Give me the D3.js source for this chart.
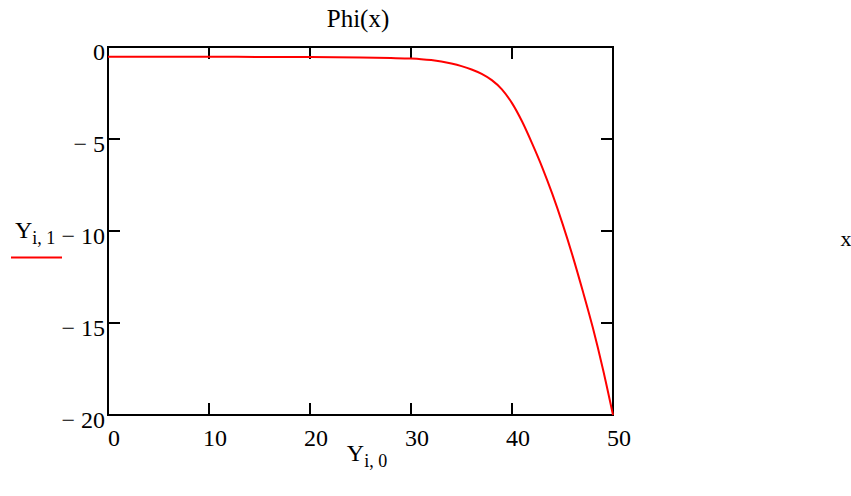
<!DOCTYPE html>
<html>
<head>
<meta charset="utf-8">
<script src="https://cdn.jsdelivr.net/npm/d3@7/dist/d3.min.js"></script>
<style>
  html, body { margin: 0; padding: 0; background: #fff; }
  svg text { font-family: "Liberation Serif", "Times New Roman", serif; fill: #000; }
</style>
</head>
<body>
<div id="chart"></div>
<script>
const xVals = [0, 5, 10, 15, 20, 25, 28, 30, 31, 32, 33, 34, 35, 36, 37, 38, 39, 40,
  41, 42, 43, 44, 45, 46, 47, 48, 49, 50];
const phiVals = [-0.53, -0.53, -0.53, -0.54, -0.55, -0.57, -0.6, -0.63, -0.66, -0.71, -0.79,
  -0.9, -1.04, -1.22, -1.46, -1.8, -2.3, -3.05, -4.05, -5.25, -6.55, -8.0, -9.6, -11.35,
  -13.25, -15.25, -17.5, -20];
const xTicks = [0, 10, 20, 30, 40, 50];
const yTicks = [0, -5, -10, -15, -20];

const width = 851, height = 496;
const svg = d3.select('#chart').append('svg')
  .attr('width', width)
  .attr('height', height);

const x = d3.scaleLinear().domain([0, 50]).range([108, 613]);
const y = d3.scaleLinear().domain([-20, 0]).range([415, 47]);

const fmt = d => d < 0 ? '\u2212 ' + Math.abs(d) : String(d);

// inward ticks on all four sides
const tick = 12;
const axes = svg.append('g').attr('stroke', '#000').attr('stroke-width', 2);
axes.selectAll('g.tb')
  .data(xTicks)
  .join(enter => {
    const g = enter.append('g').attr('class', 'tb');
    g.append('line').attr('x1', d => x(d)).attr('x2', d => x(d)).attr('y1', y(0)).attr('y2', y(0) + tick);
    g.append('line').attr('x1', d => x(d)).attr('x2', d => x(d)).attr('y1', y(-20)).attr('y2', y(-20) - tick);
    return g;
  });
axes.selectAll('g.lr')
  .data(yTicks)
  .join(enter => {
    const g = enter.append('g').attr('class', 'lr');
    g.append('line').attr('x1', x(0)).attr('x2', x(0) + tick).attr('y1', d => y(d)).attr('y2', d => y(d));
    g.append('line').attr('x1', x(50)).attr('x2', x(50) - tick).attr('y1', d => y(d)).attr('y2', d => y(d));
    return g;
  });

// frame
svg.append('rect')
  .attr('x', x(0)).attr('y', y(0))
  .attr('width', x(50) - x(0)).attr('height', y(-20) - y(0))
  .attr('fill', 'none').attr('stroke', '#000').attr('stroke-width', 2);

// curve
const line = d3.line()
  .x((d, i) => x(xVals[i]))
  .y(d => y(d))
  .curve(d3.curveMonotoneX);
svg.append('path')
  .datum(phiVals)
  .attr('d', line)
  .attr('fill', 'none')
  .attr('stroke', '#ff0000')
  .attr('stroke-width', 2);

// tick labels
svg.append('g').selectAll('text')
  .data(yTicks)
  .join('text')
  .attr('x', 105)
  .attr('y', d => y(d) + 13)
  .attr('text-anchor', 'end')
  .attr('font-size', 24)
  .text(fmt);

svg.append('g').selectAll('text')
  .data(xTicks)
  .join('text')
  .attr('x', d => x(d) + 6)
  .attr('y', 446)
  .attr('text-anchor', 'middle')
  .attr('font-size', 24)
  .text(fmt);

// title
svg.append('text')
  .attr('x', 358).attr('y', 27)
  .attr('text-anchor', 'middle')
  .attr('font-size', 25)
  .text('Phi(x)');

// x axis label Y_{i,0}
const xl = svg.append('text')
  .attr('x', 367).attr('y', 461)
  .attr('text-anchor', 'middle')
  .attr('font-size', 24);
xl.append('tspan').text('Y');
xl.append('tspan').attr('font-size', 18).attr('dy', 6).text('i, 0');

// y axis label Y_{i,1} with legend line
const yl = svg.append('text')
  .attr('x', 15).attr('y', 238)
  .attr('font-size', 24);
yl.append('tspan').text('Y');
yl.append('tspan').attr('font-size', 18).attr('dy', 6).text('i, 1');

svg.append('line')
  .attr('x1', 11).attr('x2', 62)
  .attr('y1', 257.5).attr('y2', 257.5)
  .attr('stroke', '#ff0000').attr('stroke-width', 2);

// right side marker
svg.append('text')
  .attr('x', 846).attr('y', 246)
  .attr('text-anchor', 'middle')
  .attr('font-size', 22)
  .text('x');
</script>
</body>
</html>
